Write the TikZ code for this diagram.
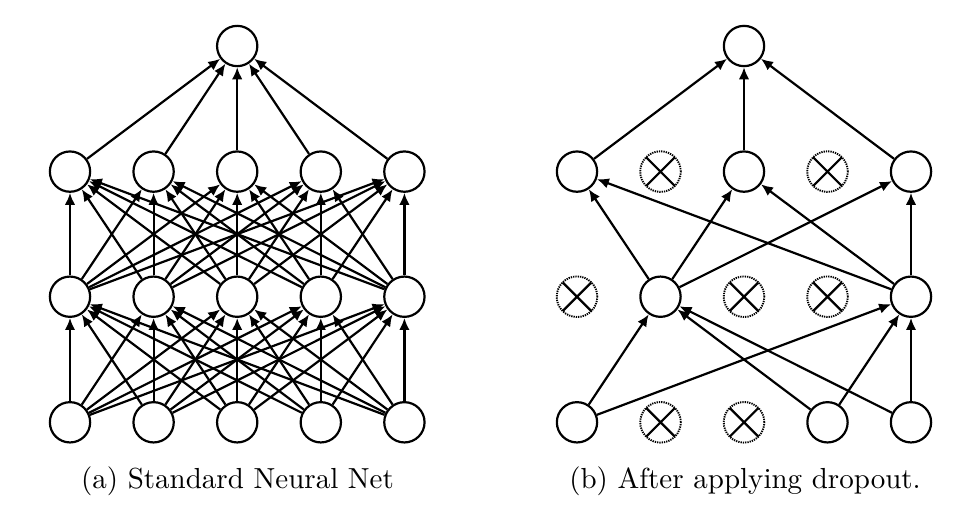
\documentclass[tikz,border=0pt]{standalone}
\usetikzlibrary{arrows.meta}
\begin{document}
\begin{tikzpicture}[x=1pt,y=-1pt,
  unit/.style={circle,draw,line width=2.2pt,minimum size=40.3pt,inner sep=0pt,fill=white},
  dropunit/.style={circle,draw,line width=1.9pt,dash pattern=on 1.3pt off 1.0pt,minimum size=40.6pt,inner sep=0pt,
    path picture={\draw[solid,line width=2.2pt] (path picture bounding box.north west)--(path picture bounding box.south east) (path picture bounding box.north east)--(path picture bounding box.south west);}},
  conn/.style={line width=2.2pt,-{Latex[length=12pt,width=10.5pt]}},
  caption/.style={scale=2.9,anchor=base,inner sep=0pt}]
\useasboundingbox (0,0) rectangle (967,507);
% ---------- (a) standard net ----------
\foreach \c/\x in {1/70,2/153.6,3/237.2,4/320.8,5/404.4}{
  \node[unit] (L1\c) at (\x,422.3) {};
  \node[unit] (L2\c) at (\x,296.7) {};
  \node[unit] (L3\c) at (\x,171.6) {};
}
\node[unit] (LT) at (237.2,46) {};
\foreach \i in {1,...,5}{
  \foreach \j in {1,...,5}{
    \draw[conn] (L1\i) -- (L2\j);
    \draw[conn] (L2\i) -- (L3\j);
  }
  \draw[conn] (L3\i) -- (LT);
}
% ---------- (b) dropout net ----------
\node[unit] (R11) at (577,422.3) {};
\node[dropunit] (R12) at (660.5,422.3) {};
\node[dropunit] (R13) at (744,422.3) {};
\node[unit] (R14) at (827.5,422.3) {};
\node[unit] (R15) at (911,422.3) {};
\node[dropunit] (R21) at (577,296.7) {};
\node[unit] (R22) at (660.5,296.7) {};
\node[dropunit] (R23) at (744,296.7) {};
\node[dropunit] (R24) at (827.5,296.7) {};
\node[unit] (R25) at (911,296.7) {};
\node[unit] (R31) at (577,171.6) {};
\node[dropunit] (R32) at (660.5,171.6) {};
\node[unit] (R33) at (744,171.6) {};
\node[dropunit] (R34) at (827.5,171.6) {};
\node[unit] (R35) at (911,171.6) {};
\node[unit] (RT) at (744,46) {};
\foreach \a in {1,4,5}{\foreach \b in {2,5}{\draw[conn] (R1\a) -- (R2\b);}}
\foreach \a in {2,5}{\foreach \b in {1,3,5}{\draw[conn] (R2\a) -- (R3\b);}}
\foreach \a in {1,3,5}{\draw[conn] (R3\a) -- (RT);}
% ---------- captions ----------
\node[caption] (capa) at (237.5,488.3) {(a) Standard Neural Net};
\node[caption] (capb) at (745,488.3) {(b) After applying dropout.};
\end{tikzpicture}
\end{document}
